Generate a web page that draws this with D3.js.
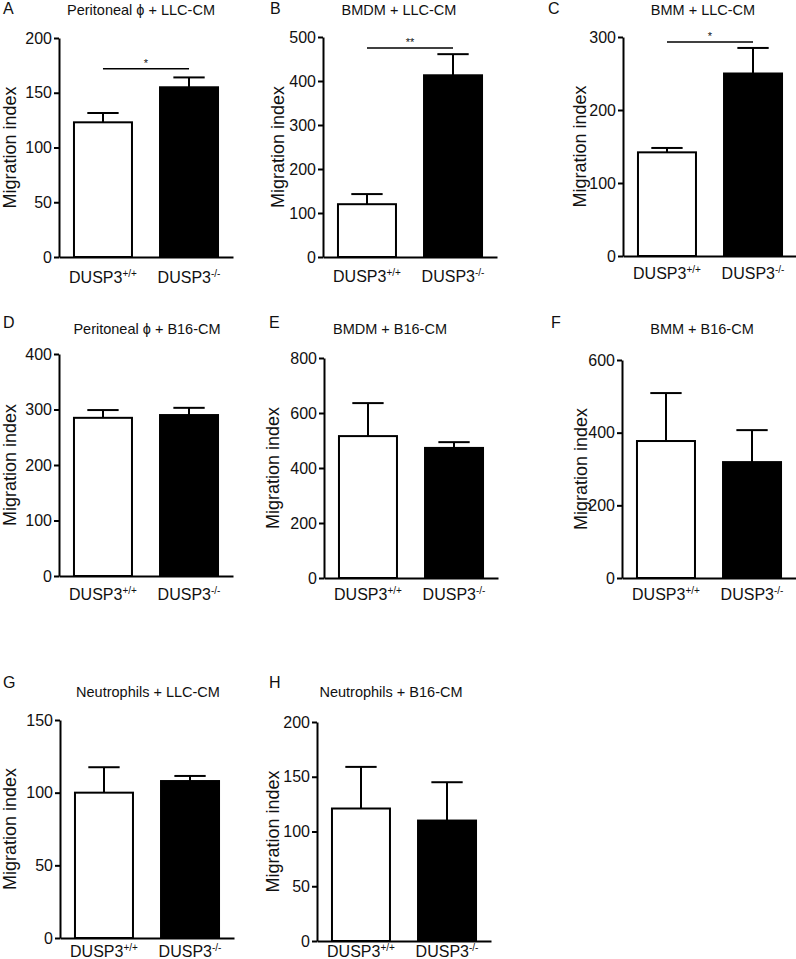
<!DOCTYPE html>
<html><head><meta charset="utf-8">
<script src="https://cdn.jsdelivr.net/npm/d3@7"></script>
<style>
body{margin:0;background:#fff}
svg{display:block}
text{font-family:"Liberation Sans",Arial,Helvetica,sans-serif;fill:#111}
</style>
</head><body>
<svg id="c" width="796" height="959"></svg>
<script>
// ---------- data ----------
const panelLetters = ["A","B","C","D","E","F","G","H"];
const panelTitles = ["Peritoneal \u03D5 + LLC-CM","BMDM + LLC-CM","BMM + LLC-CM",
  "Peritoneal \u03D5 + B16-CM","BMDM + B16-CM","BMM + B16-CM",
  "Neutrophils + LLC-CM","Neutrophils + B16-CM"];
const categories = ["DUSP3+/+","DUSP3-/-"];
const categoryBase = "DUSP3";
const categorySup = ["+/+","-/-"];
const wtMean = [123, 120, 142, 285, 516, 377, 100, 121];
const wtErr  = [8.5, 23, 6, 14, 120, 132, 17.5, 38];
const koMean = [155, 413, 250, 290, 473, 319, 108, 110];
const koErr  = [9, 48, 35, 13, 21, 88, 3.5, 35];
const yMax   = [200, 500, 300, 400, 800, 600, 150, 200];
const yStep  = [50, 100, 100, 100, 200, 200, 50, 50];
const sigLabels = ["*","**","*","","","","",""];
const sigLevel  = [172, 475, 293, null, null, null, null, null];
const yAxisTitle = "Migration index";

// ---------- layout ----------
const layout = [
  {ax:59,  top:38,  bot:257, tx:141, ty:15,  lx:3,   ly:14,  ytx:-49, ldy:26},
  {ax:323, top:37,  bot:257, tx:399, ty:15,  lx:270, ly:14,  ytx:-45, ldy:25},
  {ax:623, top:37,  bot:256, tx:703, ty:15,  lx:548, ly:14,  ytx:-43, ldy:23},
  {ax:59,  top:354, bot:576, tx:147, ty:334, lx:3,   ly:328, ytx:-49, ldy:24},
  {ax:324, top:358, bot:578, tx:390, ty:334, lx:269, ly:328, ytx:-51, ldy:22},
  {ax:622, top:360, bot:578, tx:702, ty:334, lx:551, ly:328, ytx:-41, ldy:22},
  {ax:60,  top:720, bot:938, tx:148, ty:697, lx:3,   ly:688, ytx:-50, ldy:19},
  {ax:317, top:722, bot:941, tx:391, ty:697, lx:269, ly:688, ytx:-44, ldy:16}
];

const svg = d3.select("#c");

panelTitles.forEach((title, i) => {
  const L = layout[i];
  const g = svg.append("g");
  const x = d3.scaleBand().domain(categories).range([L.ax, L.ax + 174])
    .paddingInner(0.326).paddingOuter(0.174);
  const y = d3.scaleLinear().domain([0, yMax[i]]).range([L.bot, L.top]);

  // panel letter & title
  g.append("text").attr("x", L.lx).attr("y", L.ly).attr("font-size", 16).text(panelLetters[i]);
  g.append("text").attr("x", L.tx).attr("y", L.ty).attr("font-size", 14.5)
    .attr("text-anchor", "middle").text(title);

  // bars
  const rows = categories.map((c, k) => ({c, m: k ? koMean[i] : wtMean[i], e: k ? koErr[i] : wtErr[i], k}));
  const bw = x.bandwidth();
  rows.forEach(r => {
    const cx = x(r.c) + bw / 2;
    g.append("line").attr("x1", cx).attr("x2", cx).attr("y1", y(r.m)).attr("y2", y(r.m + r.e))
      .attr("stroke", "#000").attr("stroke-width", 2);
    g.append("line").attr("x1", cx - bw * 0.27).attr("x2", cx + bw * 0.27)
      .attr("y1", y(r.m + r.e)).attr("y2", y(r.m + r.e))
      .attr("stroke", "#000").attr("stroke-width", 2);
  });
  g.selectAll("rect.bar").data(rows).enter().append("rect")
    .attr("x", d => x(d.c)).attr("width", bw)
    .attr("y", d => y(d.m)).attr("height", d => y(0) - y(d.m))
    .attr("fill", d => d.k ? "#000" : "#fff")
    .attr("stroke", "#000").attr("stroke-width", 2);

  // y axis
  const yA = g.append("g").attr("transform", `translate(${L.ax},0)`)
    .call(d3.axisLeft(y).tickValues(d3.range(0, yMax[i] + 1, yStep[i]))
      .tickSize(5).tickPadding(2).tickSizeOuter(0));
  yA.selectAll("text").attr("font-size", 16).attr("fill", "#111")
    .style("font-family", '"Liberation Sans",Arial,sans-serif');
  yA.selectAll("line,path").attr("stroke", "#000").attr("stroke-width", 2);

  // x axis
  const xA = g.append("g").attr("transform", `translate(0,${L.bot})`)
    .call(d3.axisBottom(x).tickValues([]).tickSizeOuter(0));
  xA.selectAll("path").attr("stroke", "#000").attr("stroke-width", 2);

  // category labels
  categories.forEach((c, k) => {
    const t = g.append("text").attr("x", x(c) + bw / 2).attr("y", L.bot + L.ldy)
      .attr("font-size", 16).attr("text-anchor", "middle");
    t.append("tspan").text(categoryBase);
    t.append("tspan").attr("font-size", 10).attr("dy", -6).text(categorySup[k]);
  });

  // y axis title
  g.append("text")
    .attr("transform", `translate(${L.ax + L.ytx},${(L.top + L.bot) / 2}) rotate(-90)`)
    .attr("text-anchor", "middle").attr("dominant-baseline", "central")
    .attr("font-size", 18).text(yAxisTitle);

  // significance
  if (sigLevel[i] != null) {
    const x1 = x(categories[0]) + bw / 2, x2 = x(categories[1]) + bw / 2;
    g.append("line").attr("x1", x1).attr("x2", x2)
      .attr("y1", y(sigLevel[i])).attr("y2", y(sigLevel[i]))
      .attr("stroke", "#000").attr("stroke-width", 1.5);
    g.append("text").attr("x", (x1 + x2) / 2).attr("y", y(sigLevel[i]) - 2)
      .attr("text-anchor", "middle").attr("font-size", 11).text(sigLabels[i]);
  }
});
</script>
</body></html>
